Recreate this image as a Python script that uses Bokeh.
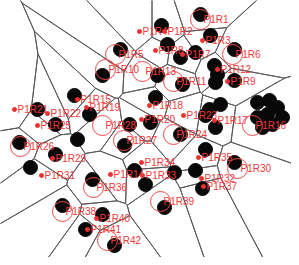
import numpy as np
from bokeh.plotting import figure
from bokeh.models import Range1d
from bokeh.embed import file_html
from bokeh.resources import INLINE
from bokeh.core.properties import value

# Region labels and their marker positions
labels = ["P1R1", "P1R2", "P1R3", "P1R4", "P1R5", "P1R6", "P1R7", "P1R8", "P1R9", "P1R10",
          "P1R11", "P1R12", "P1R13", "P1R14", "P1R15", "P1R16", "P1R17", "P1R18", "P1R19", "P1R20",
          "P1R21", "P1R22", "P1R23", "P1R24", "P1R25", "P1R26", "P1R27", "P1R28", "P1R29", "P1R30",
          "P1R31", "P1R32", "P1R33", "P1R34", "P1R35", "P1R36", "P1R37", "P1R38", "P1R39", "P1R40",
          "P1R41", "P1R42"]
label_x = [208, 172, 210, 147, 123, 240, 190, 163, 235, 113,
           181, 225, 150, 118, 85, 260, 222, 157, 94, 149,
           22, 55, 191, 181, 45, 28, 131, 110, 60, 245,
           49, 209, 150, 149, 206, 101, 211, 70, 168, 104,
           95, 115]
label_y = [27, 39, 48, 39, 62, 62, 62, 58, 89, 77,
           89, 77, 79, 182, 107, 133, 128, 113, 115, 127,
           117, 121, 123, 142, 133, 154, 148, 133, 166, 176,
           183, 186, 183, 170, 165, 195, 194, 219, 209, 226,
           237, 248]
# Labels whose red ring is visible in the picture
circled = ["P1R1", "P1R5", "P1R6", "P1R10", "P1R11", "P1R13", "P1R16", "P1R24", "P1R26",
           "P1R27", "P1R28", "P1R30", "P1R36", "P1R38", "P1R39", "P1R42"]

# Black detections
dot_x = [208, 169, 175, 218, 188, 203, 242, 128, 110, 82, 165, 190, 163, 222, 225, 223, 242,
         45, 97, 63, 85, 27, 63, 38, 137, 158, 188, 132, 217, 228, 213, 223,
         265, 277, 285, 290, 275, 265, 280, 270, 213, 242, 142, 182, 203, 100, 153, 210,
         172, 70, 110, 93, 122]
dot_y = [22, 33, 52, 43, 65, 60, 57, 57, 83, 103, 83, 92, 105, 73, 82, 90, 88,
         117, 122, 132, 147, 150, 162, 175, 132, 130, 142, 153, 117, 112, 123, 135,
         110, 108, 115, 125, 122, 125, 132, 135, 157, 170, 178, 180, 178, 187, 192, 196,
         215, 213, 222, 237, 253]


def clip(poly, n, c):
    out = []
    m = len(poly)
    for k in range(m):
        P = poly[k]
        Q = poly[(k + 1) % m]
        dp = n[0] * P[0] + n[1] * P[1] - c
        dq = n[0] * Q[0] + n[1] * Q[1] - c
        if dp <= 0:
            out.append(P)
        if (dp < 0 < dq) or (dq < 0 < dp):
            t = dp / (dp - dq)
            out.append((P[0] + t * (Q[0] - P[0]), P[1] + t * (Q[1] - P[1])))
    return out


pts = np.array(list(zip(label_x, label_y)), dtype=float)
box = [(-400.0, -400.0), (700.0, -400.0), (700.0, 700.0), (-400.0, 700.0)]
cell_xs, cell_ys = [], []
for i, pi in enumerate(pts):
    poly = list(box)
    for j, pj in enumerate(pts):
        if i == j:
            continue
        n = pj - pi
        c = (pj @ pj - pi @ pi) / 2.0
        poly = clip(poly, n, c)
        if not poly:
            break
    if poly:
        cell_xs.append([q[0] for q in poly])
        cell_ys.append([q[1] for q in poly])

ring_x = [x for x, l in zip(label_x, labels) if l in circled]
ring_y = [y for y, l in zip(label_y, labels) if l in circled]
tick_x = [x for x, l in zip(label_x, labels) if l not in circled]
tick_y = [y for y, l in zip(label_y, labels) if l not in circled]

p = figure(width=291, height=257, x_range=Range1d(8, 299), y_range=Range1d(265, 8),
           toolbar_location=None, output_backend="svg", min_border=0,
           x_axis_type=None, y_axis_type=None)
p.grid.visible = False
p.outline_line_color = None
p.background_fill_color = "white"
p.border_fill_color = "white"

p.patches(cell_xs, cell_ys, fill_color=None, line_color="#5a5a5a", line_width=1)
p.scatter(dot_x, dot_y, size=14, color="#080808")
p.scatter(ring_x, ring_y, size=20, fill_color=None, line_color="#f04848", line_width=1)
p.scatter(tick_x, tick_y, size=4, color="#f03030")
p.text(x=label_x, y=label_y, text=labels, x_offset=3, text_font_size="10px",
       text_color="#f03838", text_baseline="middle", text_align="left",
       text_font=value("Liberation Sans"))

open("out.html", "w").write(file_html(p, INLINE))
